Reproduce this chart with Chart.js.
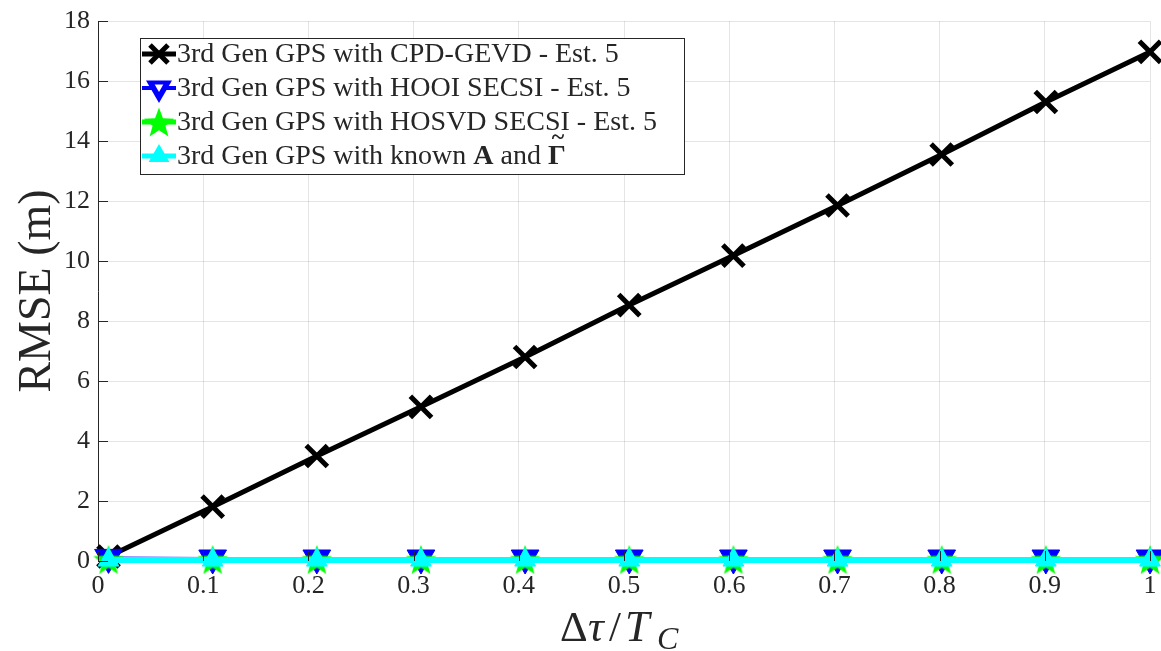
<!DOCTYPE html>
<html>
<head>
<meta charset="utf-8">
<script src="https://cdn.jsdelivr.net/npm/chart.js@4.4.1/dist/chart.umd.min.js"></script>
<style>
  html, body { margin: 0; padding: 0; background: #ffffff; }
  #wrap { width: 1161px; height: 651px; position: relative; }
</style>
</head>
<body>
<div id="wrap"><canvas id="c" width="1161" height="651"></canvas></div>
<script>
// Delay spread normalised to the chip duration (x values of every series)
const delaySpread = [0.01, 0.109, 0.208, 0.307, 0.406, 0.505, 0.604, 0.703, 0.802, 0.901, 1.0];

// RMSE in metres for each estimator
const rmseCpdGevd   = [0.15, 1.81, 3.50, 5.14, 6.80, 8.53, 10.18, 11.85, 13.55, 15.30, 16.97];
const rmseHooi      = [0.12, 0.10, 0.10, 0.10, 0.10, 0.10, 0.10, 0.10, 0.10, 0.10, 0.10];
const rmseHosvd     = [0.05, 0.05, 0.05, 0.05, 0.05, 0.05, 0.05, 0.05, 0.05, 0.05, 0.05];
const rmseKnown     = [0.03, 0.03, 0.03, 0.03, 0.03, 0.03, 0.03, 0.03, 0.03, 0.03, 0.03];

// Series names (bold A and tilde-Gamma are drawn separately in the legend)
const seriesNames = [
  '3rd Gen GPS with CPD-GEVD - Est. 5',
  '3rd Gen GPS with HOOI SECSI - Est. 5',
  '3rd Gen GPS with HOSVD SECSI - Est. 5',
  '3rd Gen GPS with known '
];

// Axis tick labels
const xTickLabels = ['0', '0.1', '0.2', '0.3', '0.4', '0.5', '0.6', '0.7', '0.8', '0.9', '1'];
const yTickLabels = ['0', '2', '4', '6', '8', '10', '12', '14', '16', '18'];

const SERIF = '"Liberation Serif", "DejaVu Serif", serif';
const TXT = '#262626';

function pts(ys) { return delaySpread.map((x, i) => ({ x: x, y: ys[i] })); }

// Filled five-pointed star used as a marker
function makeStar(R, color) {
  const pad = 2, size = Math.ceil(2 * R + pad * 2);
  const cv = document.createElement('canvas');
  cv.width = size; cv.height = size;
  const g = cv.getContext('2d');
  const cx = size / 2, cy = size / 2 + R * 0.1, r = R * 0.42;
  g.beginPath();
  for (let k = 0; k < 10; k++) {
    const rad = (k % 2 === 0) ? R : r;
    const a = -Math.PI / 2 + k * Math.PI / 5;
    const px = cx + rad * Math.cos(a), py = cy + rad * Math.sin(a);
    if (k === 0) g.moveTo(px, py); else g.lineTo(px, py);
  }
  g.closePath();
  g.fillStyle = color; g.fill();
  return cv;
}
const greenStar = makeStar(16, '#00ff00');

function tri(ctx, x, y, r, down) {
  const s = down ? -1 : 1;
  ctx.beginPath();
  ctx.moveTo(x, y - s * r);
  ctx.lineTo(x + r * Math.sqrt(3) / 2, y + s * r / 2);
  ctx.lineTo(x - r * Math.sqrt(3) / 2, y + s * r / 2);
  ctx.closePath();
}

// Inward ticks, axis titles and the boxed legend
const decorations = {
  id: 'decorations',
  afterDraw(chart) {
    const ctx = chart.ctx;
    const xs = chart.scales.x, ys = chart.scales.y;
    const area = chart.chartArea;
    ctx.save();
    ctx.strokeStyle = TXT; ctx.lineWidth = 1;
    xs.ticks.forEach(t => {
      const px = Math.round(xs.getPixelForValue(t.value)) + 0.5;
      ctx.beginPath(); ctx.moveTo(px, area.bottom); ctx.lineTo(px, area.bottom - 10); ctx.stroke();
    });
    ys.ticks.forEach(t => {
      const py = Math.round(ys.getPixelForValue(t.value)) + 0.5;
      ctx.beginPath(); ctx.moveTo(area.left, py); ctx.lineTo(area.left + 10, py); ctx.stroke();
    });

    // y axis title
    ctx.fillStyle = TXT;
    ctx.save();
    ctx.translate(38, (area.top + area.bottom) / 2);
    ctx.rotate(-Math.PI / 2);
    ctx.font = '46px ' + SERIF;
    ctx.textAlign = 'center'; ctx.textBaseline = 'middle';
    ctx.fillText('RMSE (m)', 0, 0);
    ctx.restore();

    // x axis title: Δτ/T_C
    const base = 641;
    ctx.textBaseline = 'alphabetic'; ctx.textAlign = 'left';
    ctx.font = '43px ' + SERIF;
    ctx.fillText('Δ', 560, base);
    ctx.font = 'italic 44px ' + SERIF;
    ctx.fillText('τ', 588, base);
    ctx.font = '43px ' + SERIF;
    ctx.fillText('/', 609, base);
    ctx.font = 'italic 44px ' + SERIF;
    ctx.fillText('T', 625, base);
    ctx.font = 'italic 32px ' + SERIF;
    ctx.fillText('C', 657, base + 8);

    // legend
    const L = { x: 140.5, y: 38.5, w: 544, h: 136 };
    ctx.fillStyle = '#ffffff';
    ctx.fillRect(L.x, L.y, L.w, L.h);
    ctx.strokeStyle = TXT; ctx.lineWidth = 1;
    ctx.strokeRect(L.x, L.y, L.w, L.h);
    const rows = [54, 88, 122, 156];
    const lx0 = 142, lx1 = 176, mx = 159;
    // line samples
    const lineStyles = [['#000000', 5], ['#0000ff', 4], ['#00ff00', 5], ['#00ffff', 5]];
    rows.forEach((ry, i) => {
      ctx.strokeStyle = lineStyles[i][0]; ctx.lineWidth = lineStyles[i][1];
      ctx.beginPath(); ctx.moveTo(lx0, ry); ctx.lineTo(lx1, ry); ctx.stroke();
    });
    // markers
    ctx.strokeStyle = '#000000'; ctx.lineWidth = 5;
    const d = 9;
    ctx.beginPath();
    ctx.moveTo(mx - d, rows[0] - d); ctx.lineTo(mx + d, rows[0] + d);
    ctx.moveTo(mx - d, rows[0] + d); ctx.lineTo(mx + d, rows[0] - d);
    ctx.stroke();
    ctx.fillStyle = '#0000ff'; tri(ctx, mx, rows[1], 15, true); ctx.fill();
    ctx.fillStyle = '#ffffff'; tri(ctx, mx, rows[1] - 1, 5, true); ctx.fill();
    ctx.drawImage(greenStar, mx - greenStar.width / 2, rows[2] - greenStar.height / 2);
    ctx.fillStyle = '#00ffff'; tri(ctx, mx, rows[3], 12, false); ctx.fill();

    // labels
    ctx.fillStyle = TXT;
    ctx.font = '28px ' + SERIF;
    ctx.textBaseline = 'middle';
    const tx = 177;
    for (let i = 0; i < 3; i++) ctx.fillText(seriesNames[i], tx, rows[i] + 1);
    ctx.fillText(seriesNames[3], tx, rows[3] + 1);
    let kx = tx + ctx.measureText(seriesNames[3]).width;
    ctx.font = 'bold 28px ' + SERIF;
    ctx.fillText('A', kx, rows[3] + 1); kx += ctx.measureText('A').width;
    ctx.font = '28px ' + SERIF;
    ctx.fillText(' and ', kx, rows[3] + 1); kx += ctx.measureText(' and ').width;
    ctx.font = 'bold 28px ' + SERIF;
    ctx.fillText('Γ', kx, rows[3] + 1);
    const gw = ctx.measureText('Γ').width;
    ctx.textAlign = 'center';
    ctx.font = 'bold 24px ' + SERIF;
    ctx.fillText('~', kx + gw / 2 + 1, rows[3] - 18);
    ctx.restore();
  }
};

new Chart(document.getElementById('c'), {
  type: 'scatter',
  data: {
    datasets: [
      {
        label: seriesNames[0], data: pts(rmseCpdGevd), showLine: true, clip: false,
        borderColor: '#000000', borderWidth: 5,
        pointStyle: 'crossRot', pointRadius: 15, pointBorderWidth: 5,
        pointBorderColor: '#000000', pointBackgroundColor: '#000000', order: 4
      },
      {
        label: seriesNames[1], data: pts(rmseHooi), showLine: true, clip: false,
        borderColor: '#0000ff', borderWidth: 2,
        pointStyle: 'triangle', pointRotation: 180, pointRadius: 16, pointBorderWidth: 1,
        pointBorderColor: '#0000ff', pointBackgroundColor: '#0000ff', order: 3
      },
      {
        label: seriesNames[2], data: pts(rmseHosvd), showLine: true, clip: false,
        borderColor: '#00ff00', borderWidth: 4,
        pointStyle: greenStar, pointRadius: 16, order: 2
      },
      {
        label: seriesNames[3] + 'A and Γ̃', data: pts(rmseKnown), showLine: true, clip: false,
        borderColor: '#00ffff', borderWidth: 6,
        pointStyle: 'triangle', pointRadius: 12, pointBorderWidth: 1,
        pointBorderColor: '#00ffff', pointBackgroundColor: '#00ffff', order: 1
      }
    ]
  },
  options: {
    responsive: false,
    animation: false,
    devicePixelRatio: 1,
    layout: { autoPadding: false, padding: { top: 21, right: 11, left: 0, bottom: 0 } },
    plugins: { legend: { display: false }, tooltip: { enabled: false } },
    elements: { line: { tension: 0 } },
    scales: {
      x: {
        type: 'linear', min: 0, max: 1,
        afterFit(s) { s.height = 90; s.paddingLeft = 0; s.paddingRight = 0; },
        afterBuildTicks(s) { s.ticks = xTickLabels.map(v => ({ value: parseFloat(v) })); },
        ticks: {
          padding: 10, color: TXT, font: { family: SERIF, size: 26 },
          maxRotation: 0, autoSkip: false,
          callback(v, i) { return xTickLabels[i]; }
        },
        grid: { color: 'rgba(0,0,0,0.1)', lineWidth: 1, drawTicks: false },
        border: { display: true, color: TXT, width: 1 }
      },
      y: {
        type: 'linear', min: 0, max: 18,
        afterFit(s) { s.width = 98; s.paddingTop = 0; s.paddingBottom = 0; },
        afterBuildTicks(s) { s.ticks = yTickLabels.map(v => ({ value: parseFloat(v) })); },
        ticks: {
          padding: 8, color: TXT, font: { family: SERIF, size: 26 },
          autoSkip: false,
          callback(v, i) { return yTickLabels[i]; }
        },
        grid: { color: 'rgba(0,0,0,0.1)', lineWidth: 1, drawTicks: false },
        border: { display: true, color: TXT, width: 1 }
      }
    }
  },
  plugins: [decorations]
});
</script>
</body>
</html>
